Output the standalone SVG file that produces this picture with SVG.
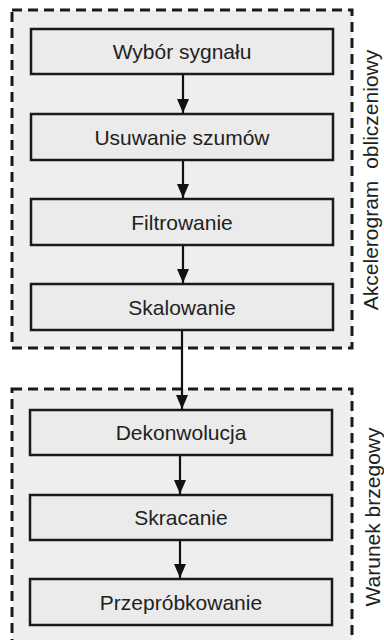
<svg xmlns="http://www.w3.org/2000/svg" width="384" height="640" viewBox="0 0 384 640">
<defs>
<style>
.grp{fill:#eeeeee;stroke:#1a1a1a;stroke-width:3;stroke-dasharray:10 6}
.box{fill:#ebebeb;stroke:#1a1a1a;stroke-width:2.5}
.lbl{font-family:"Liberation Sans",Arial,sans-serif;font-size:21px;fill:#222;text-anchor:middle}
.conn{stroke:#111;stroke-width:2.2;fill:none;marker-end:url(#ah)}
</style>
<marker id="ah" viewBox="0 0 14 12" refX="14" refY="6" markerWidth="14" markerHeight="12" markerUnits="userSpaceOnUse" orient="auto">
<path d="M0,0 L14,6 L0,12 z" fill="#111"/>
</marker>
</defs>
<rect width="384" height="640" fill="#ffffff"/>
<g id="group-akcelerogram">
<rect class="grp" x="12" y="10" width="340" height="338"/>
<text class="lbl" transform="translate(378,180) rotate(-90)" word-spacing="6">Akcelerogram obliczeniowy</text>
</g>
<g id="group-warunek">
<rect class="grp" x="12" y="389" width="340" height="270"/>
<text class="lbl" transform="translate(380,517) rotate(-90)">Warunek brzegowy</text>
</g>
<g id="connectors">
<line class="conn" x1="183" y1="74" x2="183" y2="113"/>
<line class="conn" x1="183" y1="160" x2="183" y2="198"/>
<line class="conn" x1="183" y1="245" x2="183" y2="283"/>
<line class="conn" x1="182" y1="330" x2="182" y2="409"/>
<line class="conn" x1="180" y1="455" x2="180" y2="494"/>
<line class="conn" x1="180" y1="540" x2="180" y2="578"/>
</g>
<g id="n1"><rect class="box" x="31" y="29" width="302" height="45"/><text class="lbl" x="182" y="59">Wybór sygnału</text></g>
<g id="n2"><rect class="box" x="31" y="114" width="302" height="46"/><text class="lbl" x="182" y="144.5">Usuwanie szumów</text></g>
<g id="n3"><rect class="box" x="31" y="199" width="302" height="46"/><text class="lbl" x="182" y="229.5">Filtrowanie</text></g>
<g id="n4"><rect class="box" x="31" y="284" width="302" height="46"/><text class="lbl" x="182" y="314.5">Skalowanie</text></g>
<g id="n5"><rect class="box" x="30" y="410" width="302" height="45"/><text class="lbl" x="181" y="440">Dekonwolucja</text></g>
<g id="n6"><rect class="box" x="30" y="495" width="302" height="45"/><text class="lbl" x="181" y="525">Skracanie</text></g>
<g id="n7"><rect class="box" x="30" y="579" width="302" height="46"/><text class="lbl" x="181" y="609.5">Przepróbkowanie</text></g>
</svg>
